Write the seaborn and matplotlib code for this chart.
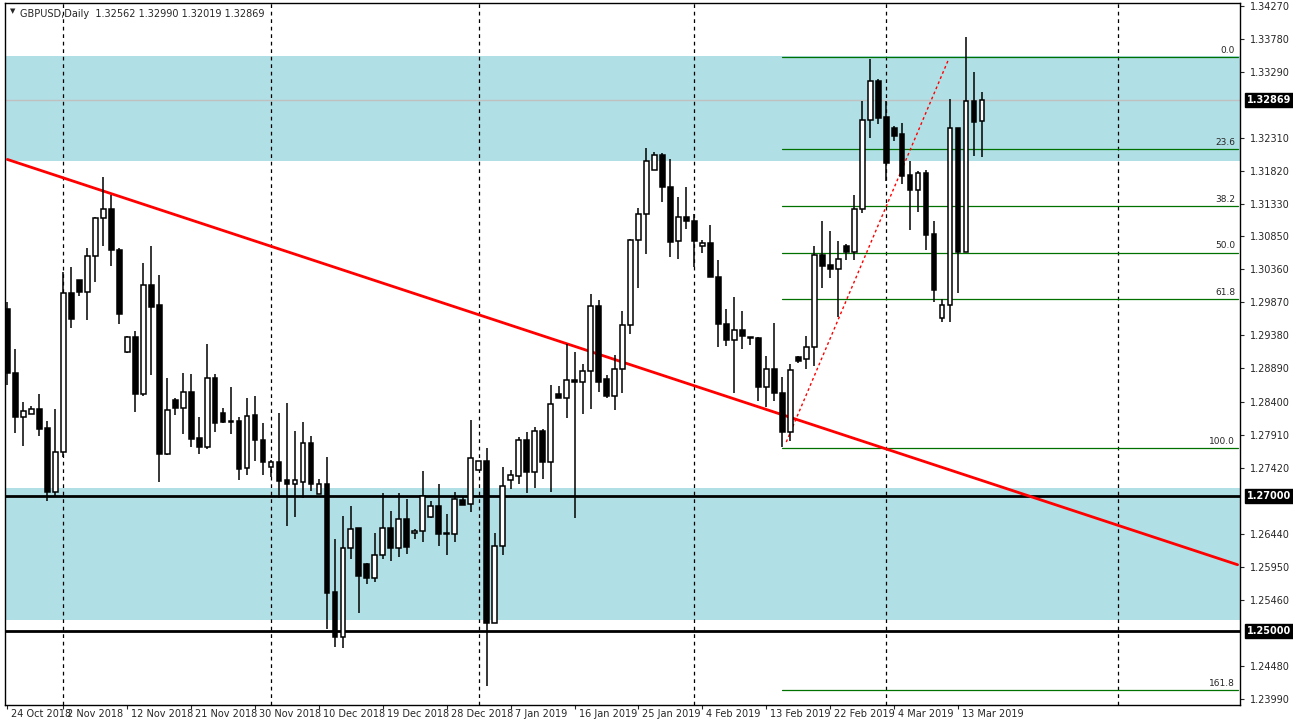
import matplotlib
matplotlib.use("Agg")
import matplotlib.pyplot as plt
import matplotlib.transforms as mtransforms
import seaborn as sns
import numpy as np
import pandas as pd

sns.set_style("white")
plt.rcParams['font.family'] = ['DejaVu Sans']

opens = [1.2977,1.2883,1.2817,1.2822,1.2829,1.2801,1.2706,1.2765,1.3001,1.3020,
         1.3003,1.3056,1.3112,1.3126,1.3065,1.2914,1.2936,1.2851,1.3013,1.2983,
         1.2762,1.2842,1.2831,1.2854,1.2786,1.2773,1.2875,1.2823,1.2810,1.2811,
         1.2741,1.2820,1.2783,1.2743,1.2750,1.2724,1.2718,1.2721,1.2778,1.2703,
         1.2718,1.2558,1.2491,1.2623,1.2652,1.2599,1.2579,1.2612,1.2652,1.2623,
         1.2666,1.2645,1.2648,1.2669,1.2685,1.2645,1.2644,1.2694,1.2688,1.2739,
         1.2752,1.2512,1.2626,1.2724,1.2729,1.2783,1.2736,1.2796,1.2750,1.2851,
         1.2845,1.2872,1.2869,1.2885,1.2982,1.2874,1.2848,1.2888,1.2954,1.3080,
         1.3118,1.3184,1.3206,1.3158,1.3078,1.3114,1.3107,1.3071,1.3075,1.3025,
         1.2955,1.2931,1.2946,1.2934,1.2934,1.2862,1.2888,1.2853,1.2795,1.2906,
         1.2903,1.2921,1.3058,1.3043,1.3037,1.3071,1.3062,1.3126,1.3258,1.3316,
         1.3262,1.3246,1.3236,1.3176,1.3153,1.3179,1.3089,1.2964,1.2983,1.3245,
         1.3062,1.3286,1.3256]
highs = [1.2988,1.2918,1.2840,1.2834,1.2851,1.2811,1.2829,1.3032,1.3040,1.3020,
         1.3067,1.3114,1.3173,1.3147,1.3067,1.2937,1.2945,1.3046,1.3071,1.3028,
         1.2875,1.2845,1.2883,1.2881,1.2817,1.2926,1.2881,1.2831,1.2862,1.2817,
         1.2845,1.2848,1.2808,1.2753,1.2823,1.2838,1.2796,1.2809,1.2789,1.2725,
         1.2758,1.2636,1.2670,1.2685,1.2652,1.2600,1.2645,1.2704,1.2678,1.2704,
         1.2696,1.2651,1.2737,1.2692,1.2718,1.2673,1.2706,1.2698,1.2813,1.2752,
         1.2771,1.2645,1.2743,1.2739,1.2787,1.2795,1.2802,1.2799,1.2865,1.2863,
         1.2926,1.2914,1.2896,1.2999,1.2991,1.2879,1.2909,1.2974,1.3081,1.3127,
         1.3216,1.3210,1.3208,1.3199,1.3144,1.3158,1.3118,1.3080,1.3102,1.3050,
         1.2977,1.2995,1.2974,1.2936,1.2936,1.2908,1.2957,1.2877,1.2896,1.2908,
         1.2937,1.3071,1.3108,1.3093,1.3078,1.3074,1.3147,1.3286,1.3348,1.3319,
         1.3286,1.3249,1.3253,1.3197,1.3182,1.3184,1.3107,1.2992,1.3288,1.3245,
         1.3380,1.3329,1.3299]
lows = [1.2865,1.2793,1.2774,1.2822,1.2789,1.2692,1.2698,1.2758,1.2949,1.2997,
        1.2961,1.3017,1.3071,1.3041,1.2955,1.2912,1.2825,1.2848,1.2879,1.2721,
        1.2761,1.2820,1.2792,1.2773,1.2762,1.2770,1.2795,1.2808,1.2792,1.2724,
        1.2731,1.2752,1.2731,1.2728,1.2697,1.2655,1.2669,1.2697,1.2707,1.2703,
        1.2503,1.2476,1.2474,1.2606,1.2526,1.2569,1.2572,1.2606,1.2603,1.2609,
        1.2614,1.2636,1.2632,1.2667,1.2626,1.2612,1.2632,1.2687,1.2676,1.2739,
        1.2418,1.2512,1.2612,1.2710,1.2718,1.2704,1.2712,1.2725,1.2706,1.2845,
        1.2816,1.2667,1.2822,1.2829,1.2854,1.2845,1.2827,1.2853,1.2940,1.3009,
        1.3059,1.3184,1.3136,1.3055,1.3052,1.3096,1.3040,1.3060,1.3025,1.2921,
        1.2922,1.2853,1.2918,1.2924,1.2841,1.2832,1.2841,1.2773,1.2782,1.2897,
        1.2888,1.2893,1.3009,1.3023,1.2966,1.3050,1.3050,1.3120,1.3231,1.3251,
        1.3167,1.3227,1.3163,1.3095,1.3121,1.3065,1.2988,1.2958,1.2958,1.3001,
        1.3062,1.3204,1.3202]
closes = [1.2883,1.2817,1.2826,1.2829,1.2799,1.2706,1.2765,1.3001,1.2963,1.3003,
          1.3056,1.3112,1.3126,1.3065,1.2970,1.2936,1.2851,1.3013,1.2980,1.2762,
          1.2827,1.2831,1.2854,1.2785,1.2773,1.2875,1.2808,1.2810,1.2811,1.2740,
          1.2819,1.2783,1.2750,1.2750,1.2722,1.2718,1.2724,1.2778,1.2718,1.2718,
          1.2556,1.2491,1.2623,1.2651,1.2581,1.2579,1.2612,1.2652,1.2623,1.2666,
          1.2625,1.2648,1.2700,1.2685,1.2644,1.2644,1.2696,1.2687,1.2756,1.2752,
          1.2512,1.2626,1.2715,1.2731,1.2783,1.2736,1.2796,1.2750,1.2836,1.2845,
          1.2872,1.2869,1.2885,1.2982,1.2869,1.2848,1.2888,1.2954,1.3080,1.3118,
          1.3196,1.3206,1.3158,1.3077,1.3114,1.3107,1.3078,1.3075,1.3025,1.2955,
          1.2931,1.2946,1.2937,1.2935,1.2862,1.2888,1.2853,1.2795,1.2887,1.2900,
          1.2921,1.3058,1.3041,1.3037,1.3052,1.3062,1.3126,1.3258,1.3316,1.3261,
          1.3193,1.3234,1.3175,1.3153,1.3179,1.3087,1.3006,1.2983,1.3245,1.3062,
          1.3286,1.3255,1.3287]

date_tick_idx = [0, 7, 15, 23, 31, 39, 47, 55, 63, 71, 79, 87, 95, 103, 111, 119]
date_tick_labels = ["24 Oct 2018", "2 Nov 2018", "12 Nov 2018", "21 Nov 2018", "30 Nov 2018",
                    "10 Dec 2018", "19 Dec 2018", "28 Dec 2018", "7 Jan 2019", "16 Jan 2019",
                    "25 Jan 2019", "4 Feb 2019", "13 Feb 2019", "22 Feb 2019", "4 Mar 2019",
                    "13 Mar 2019"]
vgrid_idx = [7, 33, 59, 86, 110, 139]
price_ticks = [1.34270, 1.33780, 1.33290, 1.32310, 1.31820, 1.31330, 1.30850, 1.30360,
               1.29870, 1.29380, 1.28890, 1.28400, 1.27910, 1.27420, 1.26440, 1.25950,
               1.25460, 1.24480, 1.23990]
zones = [(1.3197, 1.3353), (1.2516, 1.2712)]
levels = [1.2700, 1.2500]
trend_x = [0, 154]
trend_y = [1.3199, 1.2598]
fib_start, fib_end = 97, 154
fib_0, fib_100 = 1.3351, 1.2771
fib_ratios = [0.0, 23.6, 38.2, 50.0, 61.8, 100.0, 161.8]
dot_x = [97.5, 117.8]
dot_y = [1.2780, 1.3347]
last_price = 1.32869

df = pd.DataFrame({"o": opens, "h": highs, "l": lows, "c": closes})
df["i"] = np.arange(len(df))

fig = plt.figure(figsize=(12.93, 7.25), dpi=100)
ax = fig.add_axes([5/1293, 20/725, 1235/1293, 702/725])
ax.set_xlim(-0.3, 154.3)
ax.set_ylim(1.2390, 1.3431)

for lo, hi in zones:
    ax.axhspan(lo, hi, color="#B0DFE5", zorder=0, lw=0)
for v in vgrid_idx:
    ax.axvline(v, color="black", ls=(0, (3, 3)), lw=0.9, zorder=1)
for lv in levels:
    ax.axhline(lv, color="black", lw=2, zorder=2)
ax.axhline(last_price, color="#C0C0C0", lw=1, zorder=1.5)

# fibonacci
for r in fib_ratios:
    p = fib_0 - (fib_0 - fib_100) * r / 100
    ax.plot([fib_start, fib_end], [p, p], color="#007000", lw=0.9, zorder=2)
    ax.text(fib_end - 0.3, p + 0.0003, f"{r:.1f}", fontsize=6.5, ha="right", va="bottom", zorder=3)

sns.lineplot(x=trend_x, y=trend_y, color="red", lw=2, ax=ax, zorder=3)
ax.plot(dot_x, dot_y, color="red", ls=(0, (2, 2)), lw=1, zorder=3)

# candles
ax.vlines(df["i"], df["l"], df["h"], color="black", lw=1.1, zorder=4)
bottom = np.minimum(df["o"], df["c"])
height = np.maximum(np.abs(df["c"] - df["o"]), 0.00008)
up = df["c"] >= df["o"]
ax.bar(df["i"][up], height[up], bottom=bottom[up], width=0.6, color="white",
       edgecolor="black", lw=1.1, zorder=5)
ax.bar(df["i"][~up], height[~up], bottom=bottom[~up], width=0.6, color="black",
       edgecolor="black", lw=1.1, zorder=5)

# axes styling
for s in ["top", "left", "right", "bottom"]:
    ax.spines[s].set_color("black")
    ax.spines[s].set_linewidth(1)
ax.yaxis.tick_right()
ax.set_yticks(price_ticks)
ax.set_yticklabels([f"{p:.5f}" for p in price_ticks], fontsize=7)
ax.tick_params(axis="y", length=3, pad=4, right=True, direction="out")
ax.set_xticks(date_tick_idx)
ax.set_xticklabels([])
ax.tick_params(axis="x", length=3, bottom=True, direction="out")
trans = mtransforms.blended_transform_factory(ax.transData, ax.transAxes)
for idx, lab in zip(date_tick_idx, date_tick_labels):
    ax.text(idx + 0.5, -0.006, lab, transform=trans, fontsize=7, ha="left", va="top", clip_on=False)

ytrans = mtransforms.blended_transform_factory(ax.transAxes, ax.transData)
for p in [last_price] + levels:
    ax.text(1.006, p, f"{p:.5f}", transform=ytrans, fontsize=7, color="white", ha="left",
            va="center", fontweight="bold",
            bbox=dict(boxstyle="square,pad=0.2", fc="black", ec="black"), clip_on=False, zorder=10)

ax.text(0.012, 0.992, "GBPUSD,Daily  1.32562 1.32990 1.32019 1.32869", transform=ax.transAxes,
        fontsize=7, ha="left", va="top")
ax.plot([0.3, 1.1], [0.9865, 0.9865], transform=ax.transAxes, lw=0)
ax.text(0.004, 0.992, "▼", transform=ax.transAxes, fontsize=5, ha="left", va="top")

fig.savefig("out.png", dpi=100)
